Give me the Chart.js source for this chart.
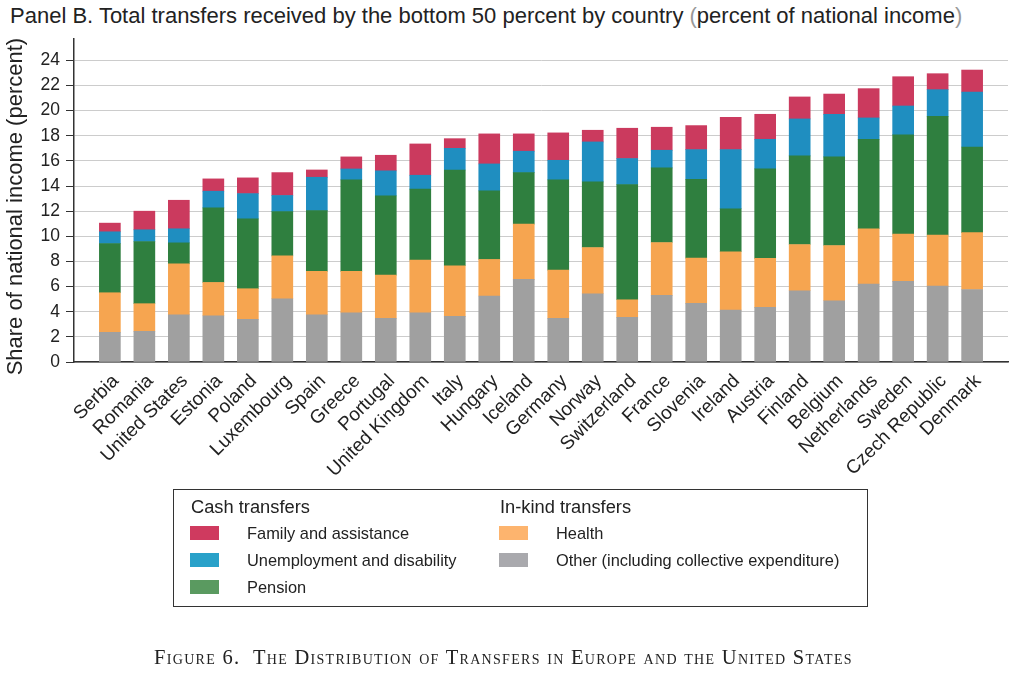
<!DOCTYPE html>
<html>
<head>
<meta charset="utf-8">
<script src="https://cdn.jsdelivr.net/npm/chart.js@4"></script>
<style>
  html, body { margin: 0; padding: 0; background: #fff; }
  body { width: 1024px; height: 678px; position: relative; overflow: hidden; font-family: "Liberation Sans", Arial, sans-serif; color: #222; }
  #c { position: absolute; left: 0; top: 0; }
  #title { position: absolute; left: 10px; top: 3px; font-size: 22px; white-space: nowrap; color: #222; }
  #title .p { color: #999; }
  #legend { position: absolute; left: 173px; top: 489px; width: 695px; height: 118px; border: 1px solid #333; box-sizing: border-box; font-family: "Liberation Sans", Arial, sans-serif; }
  .col { position: absolute; top: 0; }
  .head { position: absolute; left: 1px; top: 6px; font-size: 18.3px; white-space: nowrap; }
  .item { position: absolute; left: 0; height: 20px; white-space: nowrap; font-size: 16.4px; }
  .sw { position: absolute; left: 0; top: 3px; width: 29px; height: 14px; }
  .lb { position: absolute; left: 57px; top: 0; line-height: 20px; }
  #caption { position: absolute; left: 0; width: 1007px; top: 646px; text-align: center; font-family: "Liberation Serif", "Times New Roman", serif; font-variant: small-caps; font-size: 20.5px; letter-spacing: 1.3px; color: #222; white-space: pre; }
</style>
</head>
<body>
<div id="title">Panel B. Total transfers received by the bottom 50 percent by country <span class="p">(</span>percent of national income<span class="p">)</span></div>
<canvas id="c" width="1024" height="678"></canvas>
<div id="legend"></div>
<div id="caption">Figure 6.  The Distribution of Transfers in Europe and the United States</div>
<script>
const countries = ['Serbia','Romania','United States','Estonia','Poland','Luxembourg','Spain','Greece','Portugal','United Kingdom','Italy','Hungary','Iceland','Germany','Norway','Switzerland','France','Slovenia','Ireland','Austria','Finland','Belgium','Netherlands','Sweden','Czech Republic','Denmark'];
const other        = [2.36,2.44,3.76,3.68,3.39,5.03,3.76,3.92,3.47,3.92,3.63,5.25,6.57,3.47,5.43,3.55,5.30,4.66,4.13,4.34,5.67,4.87,6.20,6.41,6.04,5.77];
const health       = [3.15,2.20,4.05,2.65,2.44,3.42,3.45,3.29,3.44,4.19,4.03,2.91,4.40,3.84,3.68,1.40,4.21,3.60,4.64,3.90,3.68,4.40,4.40,3.76,4.05,4.53];
const pension      = [3.92,4.95,1.67,5.93,5.56,3.52,4.84,7.28,6.31,5.64,7.62,5.46,4.10,7.18,5.22,9.17,5.93,6.28,3.42,7.12,7.05,7.05,7.12,7.90,9.46,6.81];
const unemployment = [0.93,0.93,1.12,1.33,2.01,1.28,2.65,0.87,1.99,1.11,1.72,2.14,1.70,1.56,3.18,2.07,1.41,2.36,4.71,2.36,2.94,3.39,1.70,2.30,2.12,4.37];
const family       = [0.69,1.48,2.27,0.98,1.25,1.82,0.58,0.96,1.24,2.49,0.77,2.39,1.38,2.18,0.93,2.41,1.83,1.91,2.57,1.99,1.75,1.61,2.33,2.33,1.27,1.75];
const yTicks = [0,2,4,6,8,10,12,14,16,18,20,22,24];

const seriesLabels = {
  other: 'Other (including collective expenditure)',
  health: 'Health',
  pension: 'Pension',
  unemployment: 'Unemployment and disability',
  family: 'Family and assistance'
};
const barColors = { other: '#A0A0A0', health: '#F6A550', pension: '#2F7F3F', unemployment: '#1F8EC0', family: '#CB3A5E' };
const legendColors = { other: '#A9A9AD', health: '#FDB46E', pension: '#5A9A60', unemployment: '#29A1C9', family: '#CF3A5F' };

function pts(arr) { return arr.map((v, i) => ({ x: i, y: v })); }
const seriesData = { other, health, pension, unemployment, family };
const order = ['other', 'health', 'pension', 'unemployment', 'family'];
const datasets = order.map(k => ({
  key: k,
  label: seriesLabels[k],
  data: pts(seriesData[k]),
  backgroundColor: barColors[k],
  borderWidth: 0,
  barThickness: 21
}));

const FONT = '"Liberation Sans", Arial, sans-serif';
const chart = new Chart(document.getElementById('c'), {
  type: 'bar',
  data: { datasets },
  options: {
    responsive: false,
    animation: false,
    layout: { padding: { top: 39, right: 16, left: 0, bottom: 0 } },
    plugins: { legend: { display: false }, title: { display: false }, tooltip: { enabled: false } },
    scales: {
      x: {
        type: 'linear',
        offset: false,
        stacked: true,
        min: -1.04,
        max: 26.04,
        afterBuildTicks: axis => { axis.ticks = countries.map((_, i) => ({ value: i })); },
        afterFit: scale => { scale.height = 678 - 362; },
        grid: { display: false },
        border: { display: true, color: '#333', width: 1.5 },
        ticks: {
          autoSkip: false,
          maxRotation: 45,
          minRotation: 45,
          padding: 0,
          labelOffset: 6,
          color: '#222',
          font: { family: FONT, size: 19 },
          callback: v => countries[v]
        }
      },
      y: {
        stacked: true,
        min: 0,
        max: 25.7,
        afterBuildTicks: axis => { axis.ticks = yTicks.map(v => ({ value: v })); },
        afterFit: scale => { scale.width = 74; },
        grid: { color: '#CCCCCC', lineWidth: 1, drawTicks: true, tickLength: 8, tickColor: '#333' },
        border: { display: true, color: '#333', width: 1.5 },
        ticks: { padding: 6, color: '#222', font: { family: FONT, size: 17.5 } },
        title: { display: true, text: 'Share of national income (percent)  ', color: '#222', font: { family: FONT, size: 22 }, padding: { top: 3, bottom: 0 } }
      }
    }
  }
});

// Legend built from chart datasets
const legend = document.getElementById('legend');
const groups = [
  { head: 'Cash transfers', left: 16, keys: ['family', 'unemployment', 'pension'] },
  { head: 'In-kind transfers', left: 325, keys: ['health', 'other'] }
];
groups.forEach(g => {
  const col = document.createElement('div');
  col.className = 'col';
  col.style.left = g.left + 'px';
  const h = document.createElement('div');
  h.className = 'head';
  h.textContent = g.head;
  col.appendChild(h);
  g.keys.forEach((k, j) => {
    const ds = chart.data.datasets.find(d => d.key === k);
    const it = document.createElement('div');
    it.className = 'item';
    it.style.top = (33 + j * 27) + 'px';
    const sw = document.createElement('span');
    sw.className = 'sw';
    sw.style.background = legendColors[k];
    const lb = document.createElement('span');
    lb.className = 'lb';
    lb.textContent = ds.label;
    it.appendChild(sw); it.appendChild(lb);
    col.appendChild(it);
  });
  legend.appendChild(col);
});
</script>
</body>
</html>
